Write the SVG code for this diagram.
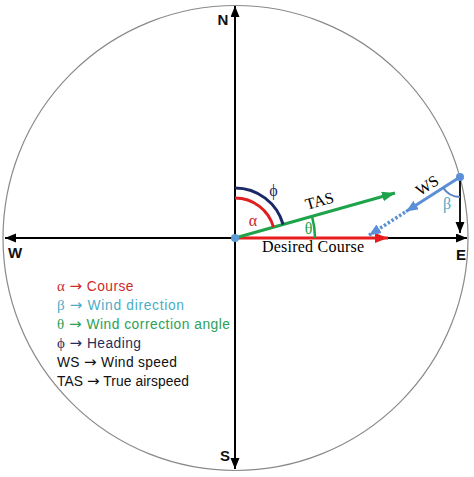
<svg xmlns="http://www.w3.org/2000/svg" width="474" height="477" viewBox="0 0 474 477">
<style>
.axis{stroke:#000;stroke-width:2;fill:none}
.dir{font-family:"Liberation Sans",Arial,sans-serif;font-weight:bold;font-size:15px;fill:#111}
.lbl{font-family:"Liberation Serif","Times New Roman",serif;font-size:16px}
.leg{font-family:"Liberation Sans",Arial,sans-serif;font-size:13.8px}
.g{font-family:"Liberation Serif","DejaVu Serif",serif;font-size:15px}
.arr{font-family:"DejaVu Sans",sans-serif;font-size:15px}
</style>
<defs>
<marker id="ak" markerUnits="userSpaceOnUse" markerWidth="12" markerHeight="10" refX="11" refY="4.5" orient="auto-start-reverse"><path d="M0,0 L11,4.5 L0,9 z" fill="#000"/></marker>
<marker id="ar" markerUnits="userSpaceOnUse" markerWidth="14" markerHeight="12" refX="13" refY="5" orient="auto"><path d="M0,0 L13,5 L0,10 z" fill="#e81c1c"/></marker>
<marker id="ag" markerUnits="userSpaceOnUse" markerWidth="14" markerHeight="12" refX="13" refY="5" orient="auto"><path d="M0,0 L13,5 L0,10 z" fill="#1ea34a"/></marker>
<marker id="ab" markerUnits="userSpaceOnUse" markerWidth="14" markerHeight="12" refX="12" refY="5" orient="auto"><path d="M0,0 L12,5 L0,10 z" fill="#5b8fd6"/></marker>
</defs>
<rect width="474" height="477" fill="#fff"/>
<g id="compass">
<circle cx="235.5" cy="238" r="232.5" fill="none" stroke="#8a8a8a" stroke-width="1.2"/>
</g>
<g id="connectors">
<line class="axis" x1="235" y1="469" x2="235" y2="6" marker-start="url(#ak)" marker-end="url(#ak)"/>
<line class="axis" x1="467" y1="238" x2="5" y2="238" marker-start="url(#ak)" marker-end="url(#ak)"/>
<line x1="235" y1="238" x2="388" y2="238" stroke="#e81c1c" stroke-width="3" marker-end="url(#ar)"/>
<line x1="235" y1="238" x2="395" y2="193" stroke="#1ea34a" stroke-width="3" marker-end="url(#ag)"/>
<line x1="460" y1="177" x2="406" y2="211.5" stroke="#5b8fd6" stroke-width="3" marker-end="url(#ab)"/>
<line x1="405" y1="212.2" x2="369" y2="235.3" stroke="#5b8fd6" stroke-width="3.5" stroke-dasharray="2.5 2" marker-end="url(#ab)"/>
<line x1="460" y1="177" x2="460" y2="233" stroke="#000" stroke-width="1.8" marker-end="url(#ak)"/>
<path d="M235,198 A40,40 0 0 1 273.5,227.2" fill="none" stroke="#e02020" stroke-width="3"/>
<path d="M235,188 A50,50 0 0 1 283.1,224.5" fill="none" stroke="#1b2a66" stroke-width="3"/>
<path d="M312,216.4 A80,80 0 0 1 315,238" fill="none" stroke="#1ea34a" stroke-width="2.5"/>
<path d="M443.2,187.8 A20,20 0 0 0 460,197" fill="none" stroke="#5b7fc7" stroke-width="2"/>
</g>
<g id="origin"><circle cx="235" cy="238" r="4" fill="#5b9bd5"/></g>
<g id="wsdot"><circle cx="460" cy="177" r="4" fill="#5b8fd6"/></g>
<g id="directions">
<text class="dir" x="217.5" y="24.5">N</text>
<text class="dir" x="220" y="460.5">S</text>
<text class="dir" x="8" y="258">W</text>
<text class="dir" x="456" y="259.5">E</text>
</g>
<g id="labels">
<text class="lbl" x="253" y="225.5" fill="#d42020" text-anchor="middle">α</text>
<text class="lbl" x="273.5" y="195.5" fill="#1b2a66" text-anchor="middle">ϕ</text>
<text class="lbl" x="308.5" y="233.5" fill="#1ea34a" text-anchor="middle">θ</text>
<text class="lbl" x="447" y="208.5" fill="#4bacc6" text-anchor="middle">β</text>
<text class="lbl" x="262" y="252" fill="#000" textLength="102">Desired Course</text>
<text class="lbl" transform="translate(321,206) rotate(-15.7)" fill="#000" text-anchor="middle">TAS</text>
<text class="lbl" transform="translate(430,190) rotate(-32.7)" fill="#000" text-anchor="middle">WS</text>
</g>
<g id="legend">
<text class="leg" x="57" y="291" fill="#cc2a2a" textLength="76.5"><tspan class="g">α</tspan> <tspan class="arr">→</tspan> Course</text>
<text class="leg" x="57" y="310" fill="#4bacc6" textLength="127"><tspan class="g">β</tspan> <tspan class="arr">→</tspan> Wind direction</text>
<text class="leg" x="57" y="329" fill="#2ea055" textLength="173"><tspan class="g">θ</tspan> <tspan class="arr">→</tspan> Wind correction angle</text>
<text class="leg" x="57" y="348" fill="#1f3060" textLength="84"><tspan class="g">ϕ</tspan> <tspan class="arr">→</tspan> Heading</text>
<text class="leg" x="57" y="367" fill="#111" textLength="120">WS <tspan class="arr">→</tspan> Wind speed</text>
<text class="leg" x="57" y="386" fill="#111" textLength="132">TAS <tspan class="arr">→</tspan> True airspeed</text>
</g>
</svg>
